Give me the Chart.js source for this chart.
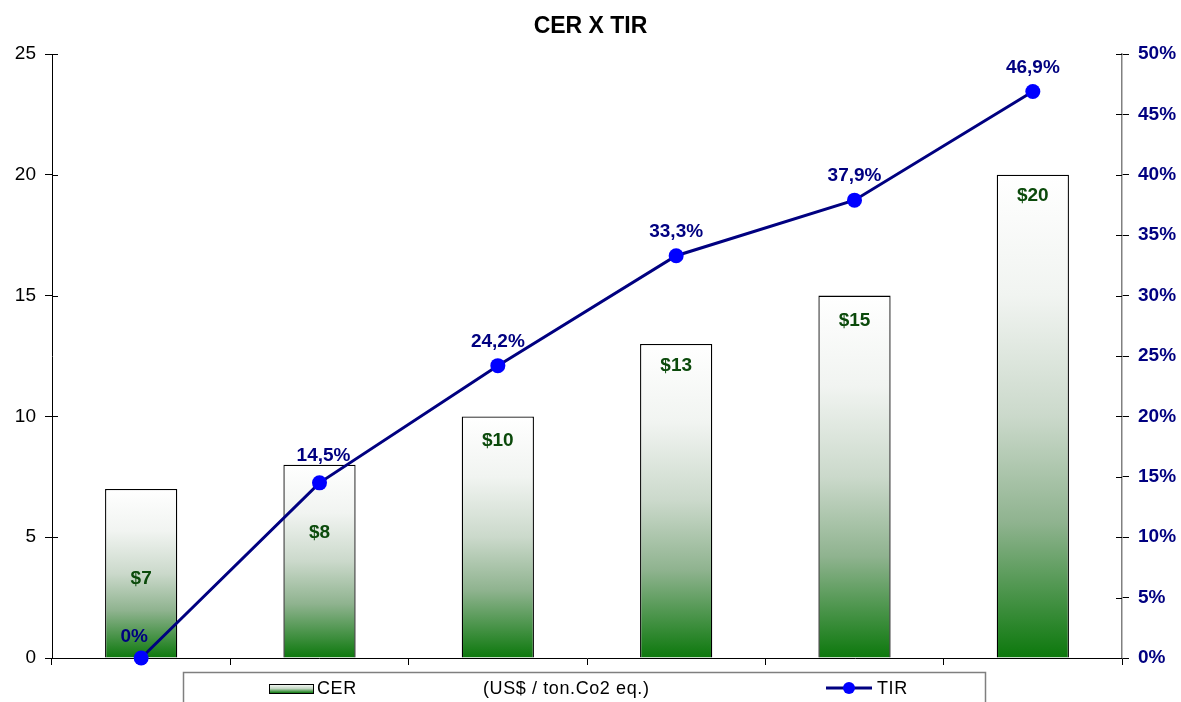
<!DOCTYPE html>
<html><head><meta charset="utf-8">
<script src="https://cdn.jsdelivr.net/npm/chart.js@4/dist/chart.umd.min.js"></script>
<style>html,body{margin:0;padding:0;background:#fff;}#wrap{width:1181px;height:702px;position:relative;}</style>
</head><body><div id="wrap"><canvas id="c" width="1181" height="702"></canvas></div>
<script>
const categories = ['1', '2', '3', '4', '5', '6'];
const cerValues = [7, 8, 10, 13, 15, 20];
const tirValues = [0, 14.5, 24.2, 33.3, 37.9, 46.9];
const cerLabels = ['$7', '$8', '$10', '$13', '$15', '$20'];
const tirLabels = ['0%', '14,5%', '24,2%', '33,3%', '37,9%', '46,9%'];
const leftTicks = [0, 5, 10, 15, 20, 25];
const rightTicks = [0, 5, 10, 15, 20, 25, 30, 35, 40, 45, 50];

const FONT = "Arial, 'Liberation Sans', sans-serif";
// Offsets of the bar value labels below each bar top (px)
const barLabelOffsets = [90, 68, 24, 22, 25, 21];

function barGradient(ctx) {
  const chart = ctx.chart;
  const area = chart.chartArea;
  if (!area || ctx.dataIndex === undefined) return '#cfe0cf';
  const ys = chart.scales.y;
  const top = ys.getPixelForValue(cerValues[ctx.dataIndex]);
  const bottom = ys.getPixelForValue(0);
  const g = chart.ctx.createLinearGradient(0, top, 0, bottom);
  g.addColorStop(0, '#ffffff');
  g.addColorStop(0.25, '#f1f4f1');
  g.addColorStop(0.5, '#cbd9cb');
  g.addColorStop(0.72, '#8fb38f');
  g.addColorStop(1, '#0c780c');
  return g;
}

const customPlugin = {
  id: 'custom',
  afterDraw(chart) {
    const c = chart.ctx;
    const area = chart.chartArea;
    const ys = chart.scales.y, y2 = chart.scales.y2;
    c.save();
    // inner tick halves
    c.strokeStyle = '#000'; c.lineWidth = 1;
    leftTicks.forEach(v => {
      const py = Math.round(ys.getPixelForValue(v)) + 0.5;
      c.beginPath(); c.moveTo(area.left, py); c.lineTo(area.left + 6, py); c.stroke();
    });
    rightTicks.forEach(v => {
      const py = Math.round(y2.getPixelForValue(v)) + 0.5;
      c.beginPath(); c.moveTo(area.right - 6, py); c.lineTo(area.right, py); c.stroke();
    });
    // bar labels
    const barMeta = chart.getDatasetMeta(0);
    c.font = 'bold 19px ' + FONT;
    c.fillStyle = '#0b4a0b';
    c.textAlign = 'center'; c.textBaseline = 'middle';
    barMeta.data.forEach((el, i) => {
      c.fillText(cerLabels[i], el.x, el.y + barLabelOffsets[i]);
    });
    // line labels
    const lineMeta = chart.getDatasetMeta(1);
    c.fillStyle = '#000080';
    lineMeta.data.forEach((el, i) => {
      const dx = i === 0 ? -7 : (i === 1 ? 4 : 0);
      const dy = i === 1 ? -27 : (i === 0 ? -21 : -24);
      c.fillText(tirLabels[i], el.x + dx, el.y + dy);
    });
    // legend box
    const lx = 183, ly = 672, lw = 802, lh = 40;
    c.strokeStyle = '#7f7f7f'; c.lineWidth = 1.5;
    c.strokeRect(lx + 0.5, ly + 0.5, lw, lh);
    // CER swatch
    const sg = c.createLinearGradient(0, 684, 0, 693);
    sg.addColorStop(0, '#ffffff'); sg.addColorStop(0.5, '#c3d6c3'); sg.addColorStop(1, '#0c780c');
    c.fillStyle = sg; c.fillRect(269, 684, 44, 9);
    c.strokeStyle = '#000'; c.lineWidth = 1; c.strokeRect(269.5, 684.5, 44, 9);
    c.font = '18px ' + FONT; c.fillStyle = '#000';
    c.textAlign = 'left'; c.textBaseline = 'middle';
    c.letterSpacing = '0.6px';
    c.fillText('CER', 317, 689);
    c.fillText('(US$ / ton.Co2 eq.)', 483, 689);
    // TIR
    c.strokeStyle = '#000080'; c.lineWidth = 3;
    c.beginPath(); c.moveTo(826, 688); c.lineTo(872, 688); c.stroke();
    c.fillStyle = '#0000ff';
    c.beginPath(); c.arc(849, 688, 6, 0, Math.PI * 2); c.fill();
    c.fillStyle = '#000';
    c.fillText('TIR', 877, 689);
    c.restore();
  }
};

new Chart(document.getElementById('c'), {
  data: {
    labels: categories,
    datasets: [
      {
        type: 'bar', label: 'CER', data: cerValues, yAxisID: 'y',
        backgroundColor: barGradient, borderColor: '#000', borderWidth: 1.3,
        categoryPercentage: 1, barPercentage: 0.405, order: 2
      },
      {
        type: 'line', label: 'TIR', data: tirValues, yAxisID: 'y2',
        borderColor: '#000080', borderWidth: 3, tension: 0,
        pointRadius: 7.5, pointHoverRadius: 7.5, pointBackgroundColor: '#0000ff',
        pointBorderColor: '#0000ff', pointBorderWidth: 0, clip: false, order: 1
      }
    ]
  },
  options: {
    responsive: false, animation: false,
    layout: { padding: 0 },
    plugins: {
      legend: { display: false }, tooltip: { enabled: false },
      title: { display: true, text: 'CER X TIR', color: '#000',
        font: { family: FONT, size: 23, weight: 'bold' }, padding: { top: 13, bottom: 13.4 } }
    },
    scales: {
      x: {
        offset: true,
        grid: { display: true, drawOnChartArea: false, offset: true, tickLength: 7, color: '#000' },
        border: { display: true, color: '#000', width: 1 },
        ticks: { display: false },
        afterFit(s) { s.height = 44; }
      },
      y: {
        position: 'left', min: 0, max: 25,
        afterBuildTicks(s) { s.ticks = leftTicks.map(v => ({ value: v })); },
        grid: { drawOnChartArea: false, tickLength: 7, color: '#000' },
        border: { color: '#000', width: 1 },
        ticks: { color: '#000', padding: 9, font: { family: FONT, size: 19 } },
        afterFit(s) { s.width = 52; }
      },
      y2: {
        position: 'right', min: 0, max: 50,
        afterBuildTicks(s) { s.ticks = rightTicks.map(v => ({ value: v })); },
        grid: { drawOnChartArea: false, tickLength: 7, color: '#000' },
        border: { color: '#808080', width: 1.5 },
        ticks: { color: '#000080', padding: 9, font: { family: FONT, size: 19, weight: 'bold' },
          callback: v => v + '%' },
        afterFit(s) { s.width = 59; }
      }
    }
  },
  plugins: [customPlugin]
});
</script></body></html>
